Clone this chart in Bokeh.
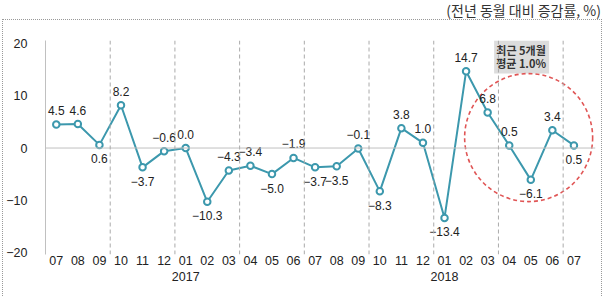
from bokeh.plotting import figure
from bokeh.models import (Range1d, Span, BoxAnnotation, ColumnDataSource, FixedTicker,
                          LinearAxis, Div)
from bokeh.layouts import column
from bokeh.core.properties import value
from bokeh.embed import file_html
from bokeh.resources import INLINE

# Monthly year-on-year change (%), 2016.07 - 2018.07
months = ["07", "08", "09", "10", "11", "12",
          "01", "02", "03", "04", "05", "06", "07", "08", "09", "10", "11", "12",
          "01", "02", "03", "04", "05", "06", "07"]
years = ["2016"] * 6 + ["2017"] * 12 + ["2018"] * 7
changes = [4.5, 4.6, 0.6, 8.2, -3.7, -0.6,
           0.0, -10.3, -4.3, -3.4, -5.0, -1.9, -3.7, -3.5, -0.1, -8.3, 3.8, 1.0,
           -13.4, 14.7, 6.8, 0.5, -6.1, 3.4, 0.5]
# label side for each point: 1 above, -1 below
label_side = [1, 1, -1, 1, -1, 1,
              1, -1, 1, 1, -1, 1, -1, -1, 1, -1, 1, 1,
              -1, 1, 1, 1, -1, 1, -1]
y_ticks = [-20, -10, 0, 10, 20]
recent_n = 5
unit_note = "(전년 동월 대비 증감률, %)"

TEAL = "#3c98ad"
FONT = "Liberation Sans"
KFONT = "Noto Sans CJK KR"
TXT = "#222222"

xs = list(range(len(changes)))

# chart body, outlined with a dotted frame
p = figure(width=598, height=277, output_backend="svg", toolbar_location=None,
           x_range=Range1d(-0.5, len(changes)), y_range=Range1d(-20.4, 20.6),
           min_border_left=40, min_border_right=6, min_border_top=20, min_border_bottom=43,
           margin=(0, 0, 0, 3),
           styles={"outline": "1px dotted #999999", "outline-offset": "0px"})
p.outline_line_color = None
p.grid.visible = False

# axes
p.yaxis.ticker = FixedTicker(ticks=y_ticks)
p.yaxis.major_label_overrides = {t: ("\u2212" + str(abs(t)) if t < 0 else str(t)) for t in y_ticks}
p.yaxis.axis_line_color = "#c0c0c0"
p.yaxis.major_tick_line_color = None
p.yaxis.minor_tick_line_color = None
p.yaxis.major_label_standoff = 12
p.yaxis.major_label_text_font = FONT
p.yaxis.major_label_text_font_size = "12.5px"
p.yaxis.major_label_text_color = TXT

p.xaxis.ticker = FixedTicker(ticks=xs)
p.xaxis.major_label_overrides = {i: m for i, m in enumerate(months)}

# second row of x labels: the year under each January
jan = [i for i, m in enumerate(months) if m == "01"]
year_axis = LinearAxis(ticker=FixedTicker(ticks=jan),
                       major_label_overrides={i: years[i] for i in jan})
p.add_layout(year_axis, "below")

for ax in (p.xaxis[0], year_axis):
    ax.axis_line_color = None
    ax.major_tick_line_color = None
    ax.minor_tick_line_color = None
    ax.major_tick_out = 0
    ax.major_tick_in = 0
    ax.major_label_text_font = FONT
    ax.major_label_text_font_size = "12.5px"
    ax.major_label_text_color = TXT
p.xaxis[0].major_label_standoff = 1
year_axis.major_label_standoff = 4

# zero line and quarter separators
p.add_layout(Span(location=0, dimension="width", line_color="#c0c0c0", line_width=1))
for i in range(len(months) - 1):
    if months[i + 1] in ("10", "01", "04", "07"):
        p.add_layout(Span(location=i + 0.5, dimension="height", line_color="#aaaaaa",
                          line_width=1, line_dash="4 3"))

# recent-months summary box and highlight circle
recent = changes[-recent_n:]
avg = sum(recent) / len(recent)
n0 = len(changes) - recent_n
p.add_layout(BoxAnnotation(left=n0 + 0.3, right=n0 + 2.85, bottom=14.3, top=20.6,
                           fill_color="#dcdcdc", fill_alpha=1, line_color=None, level="underlay"))
tx = n0 + 1.55
p.text(x=[tx, tx], y=[18.8, 16.2], text=["최근 5개월", f"평균 {avg:.1f}%"],
       text_align="center", text_baseline="middle", text_font=value(KFONT),
       text_font_size="11px", text_font_style="bold", text_color="#333333")
p.scatter(x=[n0 + 1.9], y=[2.0], size=128, marker="circle", fill_color=None,
          line_color="#e05555", line_width=1.6, line_dash="4 3")

# series
src = ColumnDataSource(dict(
    x=xs, y=changes,
    lab=[("\u2212" if v < 0 else "") + f"{abs(v):.1f}" for v in changes],
    off=[-14 if s > 0 else 14 for s in label_side],
))
p.line("x", "y", source=src, line_color=TEAL, line_width=2)
p.scatter("x", "y", source=src, size=6.5, marker="circle", fill_color="white",
          line_color=TEAL, line_width=2)
p.text("x", "y", text="lab", source=src, y_offset="off", text_align="center",
       text_baseline="middle", text_font=value(FONT), text_font_size="12px",
       text_color=TXT)

# unit note above the chart body
note = Div(text=unit_note, width=605, height=20, margin=0,
           styles={"font-family": KFONT, "font-size": "14px", "color": "#333333",
                   "text-align": "right", "line-height": "20px", "padding-right": "4px",
                   "box-sizing": "border-box", "width": "605px"})

layout = column(note, p, spacing=0, margin=0)
open("out.html", "w").write(file_html(layout, INLINE))
